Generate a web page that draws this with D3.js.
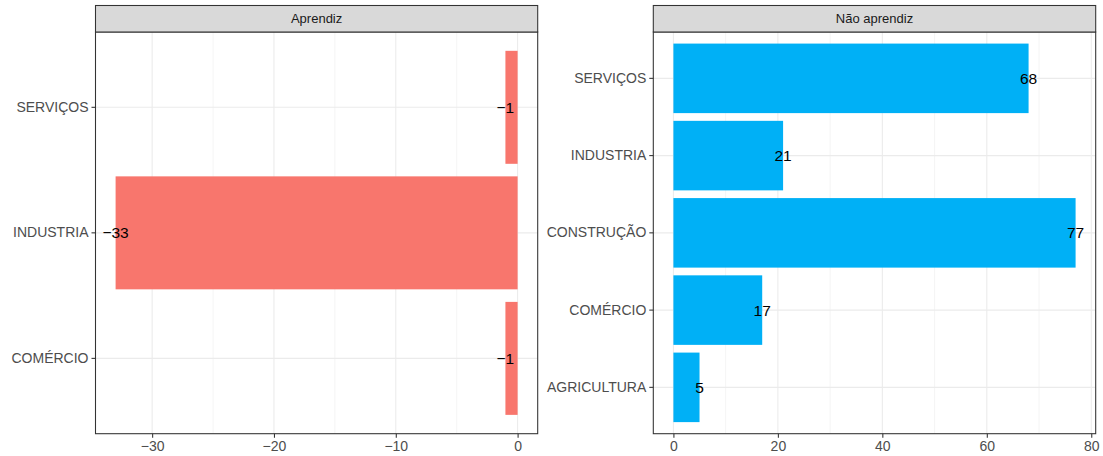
<!DOCTYPE html>
<html>
<head>
<meta charset="utf-8">
<script src="https://cdn.jsdelivr.net/npm/d3@7"></script>
<style>
  body { margin: 0; background: #fff; }
  text { font-family: "Liberation Sans", Arial, sans-serif; }
</style>
</head>
<body>
<div id="chart"></div>
<script>
// data
var aprendizCats = ["SERVIÇOS", "INDUSTRIA", "COMÉRCIO"];
var aprendizVals = [-1, -33, -1];
var naoCats = ["SERVIÇOS", "INDUSTRIA", "CONSTRUÇÃO", "COMÉRCIO", "AGRICULTURA"];
var naoVals = [68, 21, 77, 17, 5];
var aprendizTicks = [-30, -20, -10, 0];
var naoTicks = [0, 20, 40, 60, 80];

var svgWidth = 1103, svgHeight = 456;
var stripTop = 5.5, stripBottom = 32, panelBottom = 433.7;

var svg = d3.select("#chart").append("svg")
  .attr("width", svgWidth)
  .attr("height", svgHeight);

var fmt = function(v) { return String(v).replace("-", "\u2212"); };

function drawPanel(title, cats, vals, ticks, x0, x1, color) {
  var lo = d3.min(vals.concat([0])), hi = d3.max(vals.concat([0]));
  var pad = (hi - lo) * 0.05;
  var x = d3.scaleLinear().domain([lo - pad, hi + pad]).range([x0, x1]);
  var y = d3.scaleBand().domain(cats).range([stripBottom, panelBottom])
    .paddingInner(0.1).paddingOuter(0.15);

  var g = svg.append("g");

  // minor grid
  var minor = [];
  for (var i = 0; i < ticks.length - 1; i++) minor.push((ticks[i] + ticks[i + 1]) / 2);
  minor.push(ticks[0] - (ticks[1] - ticks[0]) / 2);
  minor.push(ticks[ticks.length - 1] + (ticks[1] - ticks[0]) / 2);
  g.selectAll(".minor").data(minor.filter(function(d) { return x(d) > x0 && x(d) < x1; }))
    .enter().append("line")
    .attr("x1", d => x(d)).attr("x2", d => x(d))
    .attr("y1", stripBottom).attr("y2", panelBottom)
    .attr("stroke", "#ebebeb").attr("stroke-width", 0.55);

  // major grid
  g.selectAll(".majx").data(ticks).enter().append("line")
    .attr("x1", d => x(d)).attr("x2", d => x(d))
    .attr("y1", stripBottom).attr("y2", panelBottom)
    .attr("stroke", "#ebebeb").attr("stroke-width", 1.07);
  g.selectAll(".majy").data(cats).enter().append("line")
    .attr("x1", x0).attr("x2", x1)
    .attr("y1", d => y(d) + y.bandwidth() / 2).attr("y2", d => y(d) + y.bandwidth() / 2)
    .attr("stroke", "#ebebeb").attr("stroke-width", 1.07);

  // bars
  g.selectAll(".bar").data(cats).enter().append("rect")
    .attr("x", (d, i) => x(Math.min(0, vals[i])))
    .attr("width", (d, i) => Math.abs(x(vals[i]) - x(0)))
    .attr("y", d => y(d))
    .attr("height", y.bandwidth())
    .attr("fill", color);

  // value labels
  g.selectAll(".lab").data(cats).enter().append("text")
    .attr("x", (d, i) => x(vals[i]))
    .attr("y", d => y(d) + y.bandwidth() / 2)
    .attr("dy", "0.36em")
    .attr("text-anchor", "middle")
    .attr("font-size", "15.5px")
    .attr("fill", "#000")
    .text((d, i) => fmt(vals[i]));

  // panel border
  g.append("rect")
    .attr("x", x0).attr("y", stripBottom)
    .attr("width", x1 - x0).attr("height", panelBottom - stripBottom)
    .attr("fill", "none").attr("stroke", "#333333").attr("stroke-width", 1.07);

  // strip
  g.append("rect")
    .attr("x", x0).attr("y", stripTop)
    .attr("width", x1 - x0).attr("height", stripBottom - stripTop)
    .attr("fill", "#d9d9d9").attr("stroke", "#333333").attr("stroke-width", 1.07);
  g.append("text")
    .attr("x", (x0 + x1) / 2).attr("y", (stripTop + stripBottom) / 2)
    .attr("dy", "0.36em")
    .attr("text-anchor", "middle")
    .attr("font-size", "13px")
    .attr("fill", "#1a1a1a")
    .text(title);

  // axes
  var xAxis = d3.axisBottom(x).tickValues(ticks).tickSize(4).tickPadding(3).tickFormat(fmt);
  var ax = g.append("g").attr("transform", `translate(0, ${panelBottom})`).call(xAxis);
  var yAxis = d3.axisLeft(y).tickSize(4).tickPadding(3);
  var ay = g.append("g").attr("transform", `translate(${x0}, 0)`).call(yAxis);

  [ax, ay].forEach(function(a) {
    a.select(".domain").remove();
    a.selectAll(".tick line").attr("stroke", "#333333").attr("stroke-width", 1.07);
    a.selectAll(".tick text").attr("fill", "#4d4d4d").attr("font-size", "14px")
      .attr("font-family", "Liberation Sans, Arial, sans-serif");
  });
}

drawPanel("Aprendiz", aprendizCats, aprendizVals, aprendizTicks, 95.5, 537.7, "#F8766D");
drawPanel("Não aprendiz", naoCats, naoVals, naoTicks, 653.3, 1095.7, "#00B0F6");
</script>
</body>
</html>
